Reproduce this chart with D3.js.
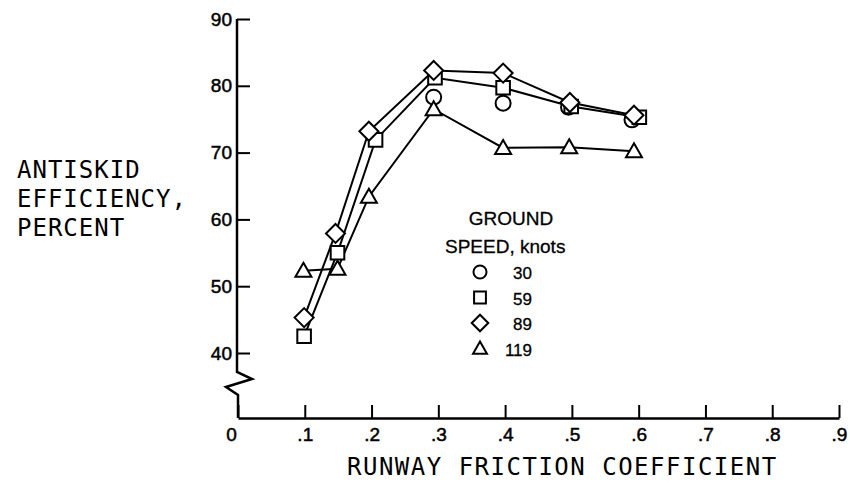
<!DOCTYPE html>
<html>
<head>
<meta charset="utf-8">
<script src="https://cdn.jsdelivr.net/npm/d3@7"></script>
<style>
  body { margin: 0; background: #fff; }
  svg { display: block; }
</style>
</head>
<body>
<div id="chart"></div>
<script>
// valeurs
const frictionTicks = [0, 0.1, 0.2, 0.3, 0.4, 0.5, 0.6, 0.7, 0.8, 0.9];
const efficiencyTicks = [40, 50, 60, 70, 80, 90];
const speedLabels = ["30", "59", "89", "119"];

const mu30 = [0.293, 0.397, 0.495, 0.590];
const eff30 = [78.3, 77.4, 76.8, 74.9];

const mu59 = [0.099, 0.149, 0.206, 0.295, 0.397, 0.499, 0.601];
const eff59 = [42.5, 55.0, 71.9, 81.2, 79.7, 76.9, 75.3];

const mu89 = [0.099, 0.146, 0.196, 0.293, 0.397, 0.497, 0.593];
const eff89 = [45.3, 57.9, 73.2, 82.3, 81.9, 77.5, 75.6];

const mu119 = [0.098, 0.149, 0.196, 0.293, 0.397, 0.496, 0.593];
const eff119 = [52.3, 52.6, 63.4, 76.5, 70.7, 70.8, 70.2];

const series = [
  { label: speedLabels[0], shape: "circle", mu: mu30, eff: eff30, joined: false },
  { label: speedLabels[1], shape: "square", mu: mu59, eff: eff59, joined: true },
  { label: speedLabels[2], shape: "diamond", mu: mu89, eff: eff89, joined: true },
  { label: speedLabels[3], shape: "triangle", mu: mu119, eff: eff119, joined: true }
];

const width = 850, height = 487;
const axisY = 418;

const svg = d3.select("#chart").append("svg")
  .attr("width", width)
  .attr("height", height);

const x = d3.scaleLinear().domain([0, 0.9]).range([238, 839]);
const y = d3.scaleLinear().domain([40, 90]).range([353, 19]);

// formes des symboles
function shapePath(shape, k) {
  const p = d3.path();
  if (shape === "circle") {
    p.moveTo(7.5 * k, 0);
    p.arc(0, 0, 7.5 * k, 0, 2 * Math.PI);
  } else if (shape === "square") {
    p.rect(-6.8 * k, -6.8 * k, 13.6 * k, 13.6 * k);
  } else if (shape === "diamond") {
    p.moveTo(0, -9.5 * k); p.lineTo(9.5 * k, 0); p.lineTo(0, 9.5 * k); p.lineTo(-9.5 * k, 0); p.closePath();
  } else {
    p.moveTo(0, -8 * k); p.lineTo(8 * k, 6 * k); p.lineTo(-8 * k, 6 * k); p.closePath();
  }
  return p.toString();
}

// axe X
const xAxis = d3.axisBottom(x)
  .tickValues(frictionTicks)
  .tickSizeInner(-13)
  .tickSizeOuter(0)
  .tickPadding(10)
  .tickFormat(d => d === 0 ? "0" : d3.format(".1f")(d).replace("0.", "."));

const gx = svg.append("g")
  .attr("transform", `translate(0,${axisY})`)
  .call(xAxis);
gx.select(".domain").attr("stroke-width", 2.5);
gx.selectAll(".tick line").attr("stroke-width", 2);
gx.selectAll(".tick text")
  .attr("font-family", "'Liberation Sans', Arial, sans-serif")
  .attr("font-size", 19)
  .attr("fill", "#000")
  .attr("stroke", "#000")
  .attr("stroke-width", 0.5)
  .attr("dx", d => d === 0 ? -7 : 0);

// axe Y
const yAxis = d3.axisLeft(y)
  .tickValues(efficiencyTicks)
  .tickSizeInner(-13)
  .tickSizeOuter(0)
  .tickPadding(5);

const gy = svg.append("g")
  .attr("transform", `translate(${x(0) - 1},0)`)
  .call(yAxis);
gy.select(".domain").remove();
gy.selectAll(".tick line").attr("stroke-width", 2);
gy.selectAll(".tick text")
  .attr("font-family", "'Liberation Sans', Arial, sans-serif")
  .attr("font-size", 19)
  .attr("fill", "#000")
  .attr("stroke", "#000")
  .attr("stroke-width", 0.5);

// ligne de l'axe Y avec la coupure
const x0 = x(0) - 1;
svg.append("path")
  .attr("d", `M${x0},${y(90)} V372 L${x0 + 15},379 L${x0 - 11},387 L${x0 + 1},395 V${axisY}`)
  .attr("fill", "none")
  .attr("stroke", "#000")
  .attr("stroke-width", 2.5)
  .attr("stroke-linejoin", "miter");

// courbes
const line = d3.line()
  .x(d => x(d[0]))
  .y(d => y(d[1]));

series.filter(s => s.joined).forEach(s => {
  svg.append("path")
    .datum(d3.zip(s.mu, s.eff))
    .attr("fill", "none")
    .attr("stroke", "#000")
    .attr("stroke-width", 2)
    .attr("d", line);
});

series.forEach(s => {
  svg.append("g")
    .selectAll("path")
    .data(d3.zip(s.mu, s.eff))
    .join("path")
    .attr("transform", d => `translate(${x(d[0])},${y(d[1])})`)
    .attr("d", shapePath(s.shape, 1))
    .attr("fill", "#fff")
    .attr("stroke", "#000")
    .attr("stroke-width", 2);
});

// titres
svg.append("text")
  .attr("x", 347)
  .attr("y", 475)
  .attr("font-family", "'DejaVu Sans Mono', monospace")
  .attr("font-size", 24)
  .attr("letter-spacing", 1.5)
  .attr("fill", "#000")
  .text("RUNWAY FRICTION COEFFICIENT");

const yTitle = svg.append("text")
  .attr("font-family", "'DejaVu Sans Mono', monospace")
  .attr("font-size", 24)
  .attr("letter-spacing", 1)
  .attr("fill", "#000");
["ANTISKID", "EFFICIENCY,", "PERCENT"].forEach((t, i) => {
  yTitle.append("tspan").attr("x", 17).attr("y", 178 + i * 29).text(t);
});

// légende
const legend = svg.append("g");
legend.append("text")
  .attr("x", 511).attr("y", 225)
  .attr("text-anchor", "middle")
  .attr("font-family", "'Liberation Sans Narrow', 'Liberation Sans', sans-serif")
  .attr("font-size", 19)
  .attr("fill", "#000")
  .attr("stroke", "#000")
  .attr("stroke-width", 0.3)
  .text("GROUND");
legend.append("text")
  .attr("x", 445).attr("y", 253)
  .attr("font-family", "'Liberation Sans Narrow', 'Liberation Sans', sans-serif")
  .attr("font-size", 19)
  .attr("fill", "#000")
  .attr("stroke", "#000")
  .attr("stroke-width", 0.3)
  .text("SPEED, knots");

const rows = legend.selectAll("g.row")
  .data(series)
  .join("g")
  .attr("class", "row")
  .attr("transform", (d, i) => `translate(480,${272 + i * 25.5})`);
rows.append("path")
  .attr("d", d => shapePath(d.shape, 0.87))
  .attr("fill", "#fff")
  .attr("stroke", "#000")
  .attr("stroke-width", 2);
rows.append("text")
  .attr("x", 52)
  .attr("y", 7)
  .attr("text-anchor", "end")
  .attr("font-family", "'Liberation Sans Narrow', 'Liberation Sans', sans-serif")
  .attr("font-size", 17)
  .attr("fill", "#000")
  .attr("stroke", "#000")
  .attr("stroke-width", 0.3)
  .text(d => d.label);
</script>
</body>
</html>
